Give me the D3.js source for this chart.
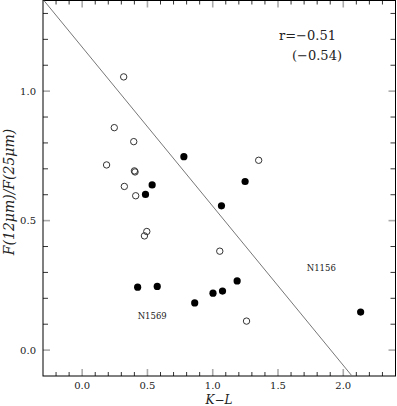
<!DOCTYPE html>
<html><head><meta charset="utf-8">
<script src="https://cdn.jsdelivr.net/npm/d3@7"></script>
<style>body{margin:0;background:#fff}svg{display:block}</style>
</head><body>
<script>
// Data
const openKL  = [0.318, 0.246, 0.395, 0.187, 0.400, 0.405, 0.323, 0.410, 0.495, 0.477, 1.352, 1.054, 1.259];
const openF   = [1.055, 0.859, 0.805, 0.715, 0.692, 0.688, 0.632, 0.596, 0.458, 0.441, 0.733, 0.382, 0.112];
const filledKL = [0.779, 0.536, 0.485, 1.067, 1.248, 0.425, 0.575, 0.862, 1.002, 1.075, 1.187, 2.133];
const filledF  = [0.747, 0.638, 0.601, 0.557, 0.651, 0.243, 0.246, 0.182, 0.220, 0.228, 0.267, 0.147];
const fitKL = [-0.293, 2.067];
const fitF  = [1.35, -0.10];
const xTicks = [0.0, 0.5, 1.0, 1.5, 2.0];
const yTicks = [0.0, 0.5, 1.0];
const labels = [{t:"N1569", x:0.425, y:0.12}, {t:"N1156", x:1.72, y:0.305}];
const statLines = ["r=\u22120.51", "(\u22120.54)"];

const W = 397, H = 406;
const m = {l:43, t:0.5, r:1.5, b:30};
const x = d3.scaleLinear().domain([-0.3, 2.4]).range([m.l, W - m.r]);
const y = d3.scaleLinear().domain([-0.1, 1.35]).range([H - m.b, m.t]);
const svg = d3.select("body").append("svg").attr("width", W).attr("height", H);
const font = "'DejaVu Serif', serif";

const minorX = d3.range(-2, 24).map(i => i / 10);
const minorY = d3.range(0, 14).map(i => i / 10).filter(v => v > -0.1 && v < 1.35);
const isMajor = v => Math.abs(v * 2 - Math.round(v * 2)) < 1e-6;

const ticks = svg.append("g");
minorX.forEach(v => {
  const maj = isMajor(v), L = maj ? 7 : 4;
  [[y.range()[0], -1], [y.range()[1], 1]].forEach(([y0, s]) => {
    ticks.append("line").attr("x1", x(v)).attr("x2", x(v)).attr("y1", y0).attr("y2", y0 + s * L)
      .attr("stroke", maj ? "#aaa" : "#333").attr("stroke-width", maj ? 1.6 : 1);
  });
});
minorY.forEach(v => {
  const maj = isMajor(v), L = maj ? 7 : 5;
  [[x.range()[0], 1], [x.range()[1], -1]].forEach(([x0, s]) => {
    ticks.append("line").attr("y1", y(v)).attr("y2", y(v)).attr("x1", x0).attr("x2", x0 + s * L)
      .attr("stroke", maj ? "#aaa" : "#333").attr("stroke-width", maj ? 1.6 : 1);
  });
});

svg.append("rect").attr("x", x.range()[0]).attr("y", y.range()[1])
  .attr("width", x.range()[1] - x.range()[0]).attr("height", y.range()[0] - y.range()[1])
  .attr("fill", "none").attr("stroke", "#000").attr("stroke-width", 1);

// tick labels
svg.append("g").selectAll("text").data(xTicks).join("text")
  .attr("x", d => x(d)).attr("y", 388.5).attr("text-anchor", "middle")
  .attr("font-family", font).attr("font-size", 10).attr("fill", "#222").text(d => d3.format(".1f")(d));
svg.append("g").selectAll("text").data(yTicks).join("text")
  .attr("x", 36).attr("y", d => y(d) + 3.6).attr("text-anchor", "end")
  .attr("font-family", font).attr("font-size", 10).attr("fill", "#222").text(d => d3.format(".1f")(d));

// axis titles
svg.append("text").attr("x", 219).attr("y", 403.5).attr("text-anchor", "middle")
  .attr("font-family", font).attr("font-style", "italic")
  .attr("font-size", 12).attr("fill", "#222").text("K\u2212L");
svg.append("text").attr("transform", "translate(14,192) rotate(-90)").attr("text-anchor", "middle")
  .attr("font-family", font).attr("font-style", "italic").attr("font-size", 14).attr("fill", "#222")
  .text("F(12\u03BCm)/F(25\u03BCm)");

// fit line
svg.append("line").attr("x1", x(fitKL[0])).attr("y1", y(fitF[0])).attr("x2", x(fitKL[1])).attr("y2", y(fitF[1]))
  .attr("stroke", "#777").attr("stroke-width", 1);

// points
svg.append("g").selectAll("circle").data(openKL.map((v, i) => [v, openF[i]])).join("circle")
  .attr("cx", d => x(d[0])).attr("cy", d => y(d[1])).attr("r", 3.2)
  .attr("fill", "none").attr("stroke", "#333").attr("stroke-width", 1);
svg.append("g").selectAll("circle").data(filledKL.map((v, i) => [v, filledF[i]])).join("circle")
  .attr("cx", d => x(d[0])).attr("cy", d => y(d[1])).attr("r", 3.6).attr("fill", "#000");

// labels
svg.append("g").selectAll("text").data(labels).join("text")
  .attr("x", d => x(d.x)).attr("y", d => y(d.y)).attr("font-family", font).attr("font-size", 8.5)
  .attr("fill", "#222").text(d => d.t);

svg.append("text").attr("x", 279).attr("y", 40).attr("font-family", font).attr("font-size", 13)
  .attr("fill", "#222").text(statLines[0]);
svg.append("text").attr("x", 292).attr("y", 60).attr("font-family", font).attr("font-size", 13)
  .attr("fill", "#222").text(statLines[1]);
</script>
</body></html>
